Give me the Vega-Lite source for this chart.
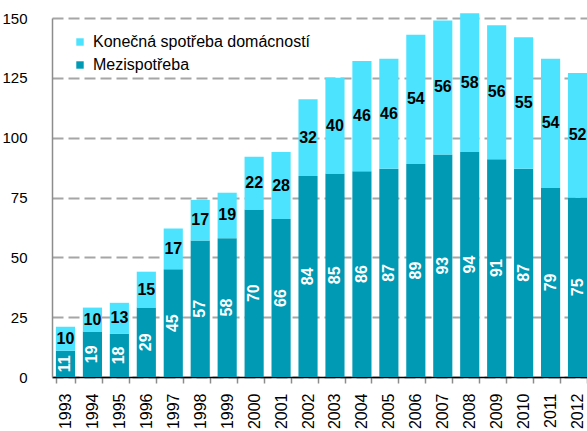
{
  "$schema": "https://vega.github.io/schema/vega-lite/v6.json",
  "width": 535,
  "height": 359,
  "autosize": {"type": "none"},
  "padding": {"left": 52, "top": 18, "right": 0, "bottom": 54},
  "background": "white",
  "config": {
    "view": {"stroke": null},
    "font": "Liberation Sans"
  },
  "data": {
    "values": [
      {"rok": "1993", "serie": "Mezispotřeba", "hodnota": 11},
      {"rok": "1994", "serie": "Mezispotřeba", "hodnota": 19},
      {"rok": "1995", "serie": "Mezispotřeba", "hodnota": 18},
      {"rok": "1996", "serie": "Mezispotřeba", "hodnota": 29},
      {"rok": "1997", "serie": "Mezispotřeba", "hodnota": 45},
      {"rok": "1998", "serie": "Mezispotřeba", "hodnota": 57},
      {"rok": "1999", "serie": "Mezispotřeba", "hodnota": 58},
      {"rok": "2000", "serie": "Mezispotřeba", "hodnota": 70},
      {"rok": "2001", "serie": "Mezispotřeba", "hodnota": 66},
      {"rok": "2002", "serie": "Mezispotřeba", "hodnota": 84},
      {"rok": "2003", "serie": "Mezispotřeba", "hodnota": 85},
      {"rok": "2004", "serie": "Mezispotřeba", "hodnota": 86},
      {"rok": "2005", "serie": "Mezispotřeba", "hodnota": 87},
      {"rok": "2006", "serie": "Mezispotřeba", "hodnota": 89},
      {"rok": "2007", "serie": "Mezispotřeba", "hodnota": 93},
      {"rok": "2008", "serie": "Mezispotřeba", "hodnota": 94},
      {"rok": "2009", "serie": "Mezispotřeba", "hodnota": 91},
      {"rok": "2010", "serie": "Mezispotřeba", "hodnota": 87},
      {"rok": "2011", "serie": "Mezispotřeba", "hodnota": 79},
      {"rok": "2012", "serie": "Mezispotřeba", "hodnota": 75},
      {"rok": "1993", "serie": "Konečná spotřeba domácností", "hodnota": 10},
      {"rok": "1994", "serie": "Konečná spotřeba domácností", "hodnota": 10},
      {"rok": "1995", "serie": "Konečná spotřeba domácností", "hodnota": 13},
      {"rok": "1996", "serie": "Konečná spotřeba domácností", "hodnota": 15},
      {"rok": "1997", "serie": "Konečná spotřeba domácností", "hodnota": 17},
      {"rok": "1998", "serie": "Konečná spotřeba domácností", "hodnota": 17},
      {"rok": "1999", "serie": "Konečná spotřeba domácností", "hodnota": 19},
      {"rok": "2000", "serie": "Konečná spotřeba domácností", "hodnota": 22},
      {"rok": "2001", "serie": "Konečná spotřeba domácností", "hodnota": 28},
      {"rok": "2002", "serie": "Konečná spotřeba domácností", "hodnota": 32},
      {"rok": "2003", "serie": "Konečná spotřeba domácností", "hodnota": 40},
      {"rok": "2004", "serie": "Konečná spotřeba domácností", "hodnota": 46},
      {"rok": "2005", "serie": "Konečná spotřeba domácností", "hodnota": 46},
      {"rok": "2006", "serie": "Konečná spotřeba domácností", "hodnota": 54},
      {"rok": "2007", "serie": "Konečná spotřeba domácností", "hodnota": 56},
      {"rok": "2008", "serie": "Konečná spotřeba domácností", "hodnota": 58},
      {"rok": "2009", "serie": "Konečná spotřeba domácností", "hodnota": 56},
      {"rok": "2010", "serie": "Konečná spotřeba domácností", "hodnota": 55},
      {"rok": "2011", "serie": "Konečná spotřeba domácností", "hodnota": 54},
      {"rok": "2012", "serie": "Konečná spotřeba domácností", "hodnota": 52}
    ]
  },
  "encoding": {
    "x": {
      "field": "rok",
      "type": "ordinal",
      "scale": {"range": [0, 539], "paddingInner": 0.29, "paddingOuter": 0.145},
      "axis": {
        "title": null,
        "labelAngle": -90,
        "labelFontSize": 16,
        "labelColor": "#000000",
        "labelPadding": 10,
        "tickBand": "extent",
        "tickSize": 6,
        "tickColor": "#8c8c8c",
        "tickWidth": 1.5,
        "domainColor": "#000000",
        "domainWidth": 1.5,
        "grid": false
      }
    },
    "y": {
      "field": "hodnota",
      "type": "quantitative",
      "stack": "zero",
      "scale": {"domain": [0, 150], "nice": false},
      "axis": {
        "title": null,
        "values": [0, 25, 50, 75, 100, 125, 150],
        "labelFontSize": 15,
        "labelColor": "#000000",
        "labelPadding": 25,
        "ticks": false,
        "tickSize": 0,
        "domainColor": "#8c8c8c",
        "domainWidth": 1.5,
        "grid": true,
        "gridColor": "#a6a6a6",
        "gridWidth": 2,
        "gridDash": [11, 5]
      }
    },
    "order": {"field": "serie", "sort": "descending"}
  },
  "layer": [
    {
      "mark": {"type": "bar"},
      "encoding": {
        "color": {
          "field": "serie",
          "type": "nominal",
          "scale": {
            "domain": ["Konečná spotřeba domácností", "Mezispotřeba"],
            "range": ["#4ce3ff", "#009ab4"]
          },
          "legend": {
            "title": null,
            "orient": "none",
            "legendX": 20,
            "legendY": 16,
            "symbolType": "square",
            "symbolSize": 55,
            "symbolStrokeWidth": 0,
            "labelFontSize": 16,
            "labelColor": "#000000",
            "labelOffset": 5,
            "labelLimit": 400,
            "rowPadding": 7
          }
        }
      }
    },
    {
      "mark": {
        "type": "text",
        "fontSize": 16,
        "fontWeight": "bold",
        "align": "center",
        "baseline": "middle"
      },
      "encoding": {
        "y": {"field": "hodnota", "type": "quantitative", "stack": "zero", "bandPosition": 0.5},
        "text": {"field": "hodnota", "type": "quantitative"},
        "fill": {
          "condition": {"test": "datum.serie === 'Mezispotřeba'", "value": "#ffffff"},
          "value": "#000000"
        },
        "angle": {
          "condition": {"test": "datum.serie === 'Mezispotřeba'", "value": 270},
          "value": 0
        }
      }
    }
  ]
}
